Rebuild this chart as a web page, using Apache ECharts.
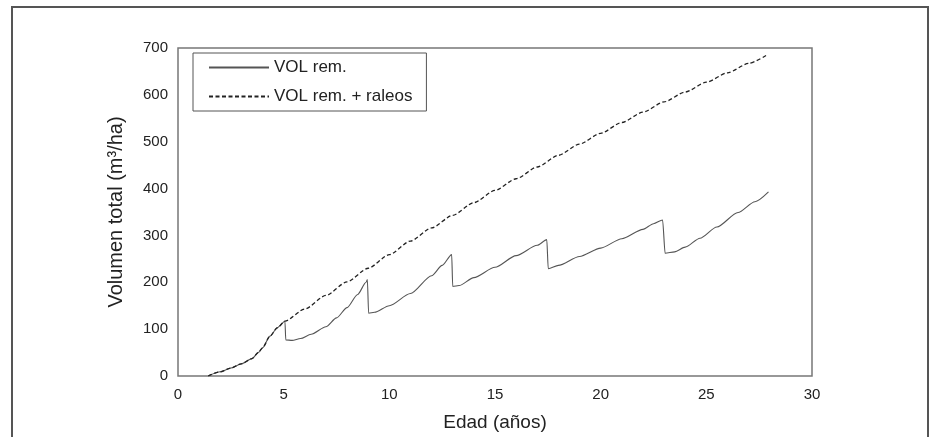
<!DOCTYPE html>
<html>
<head>
<meta charset="utf-8">
<script src="https://cdn.jsdelivr.net/npm/echarts@6/dist/echarts.min.js"></script>
<style>
html,body{margin:0;padding:0;background:#fff;}
#c{width:935px;height:437px;}
</style>
</head>
<body>
<div id="c"></div>
<script>
// Data
var xTicks = [0, 5, 10, 15, 20, 25, 30];
var yTicks = [0, 100, 200, 300, 400, 500, 600, 700];
var seriesNames = ['VOL rem.', 'VOL rem. + raleos'];

var remAge = [1.43, 2.0, 2.5, 3.0, 3.5, 3.8, 4.0, 4.35, 4.7, 5.06,
              5.1, 5.4, 5.8, 6.3, 7.0, 7.5, 8.0, 8.5, 8.9, 8.96,
              9.02, 9.3, 10.0, 11.0, 12.0, 12.5, 12.95,
              13.0, 13.3, 14.0, 15.0, 16.0, 17.0, 17.45,
              17.52, 18.0, 19.0, 20.0, 21.0, 22.0, 22.5, 22.93,
              23.05, 23.5, 24.0, 24.7, 25.5, 26.5, 27.3, 27.94];
var remVol = [0, 9, 17, 26, 37, 50, 60, 85, 103, 117,
              77, 76, 80, 89, 105, 124, 146, 174, 200, 206,
              134, 136, 150, 176, 214, 236, 259,
              191, 193, 210, 232, 257, 279, 291,
              229, 236, 255, 273, 293, 313, 325, 333,
              262, 265, 275, 294, 318, 349, 372, 393];

var totAge = [1.43, 2.0, 2.5, 3.0, 3.5, 3.8, 4.0, 4.35, 4.7, 5.06,
              6, 7, 8, 9, 10, 11, 12, 13, 14, 15, 16, 17, 18, 19,
              20, 21, 22, 23, 24, 25, 26, 27, 27.9];
var totVol = [0, 9, 17, 26, 37, 50, 60, 85, 103, 117,
              143, 172, 201, 230, 259, 288, 316, 343, 370, 396, 421, 446, 471, 495,
              518, 541, 563, 585, 606, 627, 647, 667, 686];

function zip(a, b) { return a.map(function (v, i) { return [v, b[i]]; }); }

var chart = echarts.init(document.getElementById('c'), null, {renderer: 'canvas'});
var font = 'Liberation Sans, Arial, sans-serif';
chart.setOption({
  backgroundColor: '#fff',
  animation: false,
  graphic: [{
    type: 'rect',
    shape: {x: 12, y: 7, width: 916, height: 440},
    style: {fill: 'none', stroke: '#555', lineWidth: 2},
    silent: true, z: 0
  }],
  grid: {
    left: 178, right: 935 - 812, top: 48, bottom: 437 - 376,
    show: true, borderColor: '#777', borderWidth: 1.5, backgroundColor: 'transparent'
  },
  legend: {
    orient: 'vertical',
    left: 193, top: 53,
    padding: [6, 14, 6, 15],
    itemGap: 12,
    itemWidth: 60, itemHeight: 17,
    borderColor: '#555', borderWidth: 1,
    backgroundColor: '#fff',
    itemStyle: {opacity: 0},
    textStyle: {fontFamily: font, fontSize: 17, color: '#222', padding: [0, 0, 0, 0]},
    data: seriesNames
  },
  xAxis: {
    type: 'value', min: xTicks[0], max: xTicks[xTicks.length - 1], interval: 5,
    name: 'Edad (años)', nameLocation: 'middle', nameGap: 37,
    nameTextStyle: {fontFamily: font, fontSize: 19, color: '#222'},
    axisLine: {show: false},
    axisTick: {show: false},
    splitLine: {show: false},
    axisLabel: {fontFamily: font, fontSize: 15, color: '#222', margin: 11}
  },
  yAxis: {
    type: 'value', min: yTicks[0], max: yTicks[yTicks.length - 1], interval: 100,
    name: 'Volumen total (m³/ha)', nameLocation: 'middle', nameGap: 52,
    nameTextStyle: {fontFamily: font, fontSize: 20, color: '#222'},
    axisLine: {show: false},
    axisTick: {show: false},
    splitLine: {show: false},
    axisLabel: {fontFamily: font, fontSize: 15, color: '#222', margin: 10}
  },
  series: [{
    name: seriesNames[0], type: 'line', data: zip(remAge, remVol),
    showSymbol: false, symbol: 'none', smooth: 0.25, smoothMonotone: 'x',
    lineStyle: {color: '#555', width: 1.1, type: 'solid'},
    itemStyle: {color: '#555'}, z: 3
  }, {
    name: seriesNames[1], type: 'line', data: zip(totAge, totVol),
    showSymbol: false, symbol: 'none', smooth: 0.25, smoothMonotone: 'x',
    lineStyle: {color: '#222', width: 1.3, type: [4, 2.5]},
    itemStyle: {color: '#222'}, z: 4
  }]
});
</script>
</body>
</html>
